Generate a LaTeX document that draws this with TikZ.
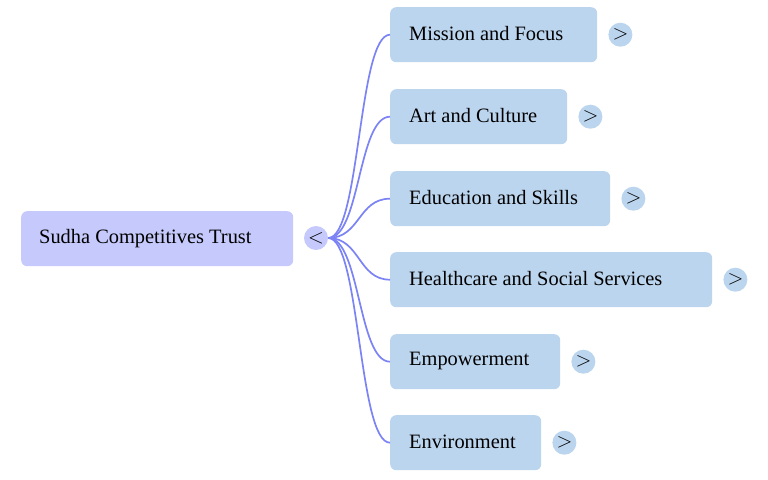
\documentclass[tikz,border=0pt]{standalone}
\usepackage{fontspec}
\setmainfont{Liberation Serif}
\definecolor{rootfill}{HTML}{C5C9FB}
\definecolor{childfill}{HTML}{BCD5EE}
\definecolor{linkcol}{HTML}{7B83F5}
\tikzset{
  x=1pt,y=-1pt,
  rootbox/.style={fill=rootfill,rounded corners=6pt,inner sep=0pt,anchor=north west},
  childbox/.style={fill=childfill,rounded corners=6pt,inner sep=0pt,anchor=north west},
  lbl/.style={anchor=west,font=\fontsize{20.4}{24}\selectfont,inner sep=0pt},
  rootdot/.style={circle,fill=rootfill,minimum size=24pt,inner sep=0pt,font=\fontsize{20}{22}\selectfont},
  childdot/.style={circle,fill=childfill,minimum size=24pt,inner sep=0pt,font=\fontsize{20}{22}\selectfont},
  link/.style={draw=linkcol,line width=1.7pt}
}
\begin{document}
\begin{tikzpicture}
\useasboundingbox (0,0) rectangle (768,479);
\node[rootbox,minimum width=272pt,minimum height=55pt] (root) at (21,211) {};
\node[lbl] (roottxt) at (39,238.5) {Sudha Competitives Trust};
\node[rootdot] (rc) at (316,238) {$<$};

\foreach \name/\txt/\y/\w in {
  mis/Mission and Focus/7/207,
  art/Art and Culture/89/177,
  edu/Education and Skills/171/220,
  hea/Healthcare and Social Services/252/322,
  emp/Empowerment/334/170,
  env/Environment/415/151}{
  \node[childbox,minimum width=\w pt,minimum height=55pt] (\name) at (390,\y) {};
  \node[lbl] (\name t) at (409,\y+27) {\txt};
  \node[childdot] (\name c) at ([xshift=23pt]\name.east) {$>$};
  \draw[link] (rc.east) .. controls ([xshift=32pt]rc.east) and ([xshift=-32pt]\name.west) .. (\name.west);
}
\end{tikzpicture}
\end{document}
